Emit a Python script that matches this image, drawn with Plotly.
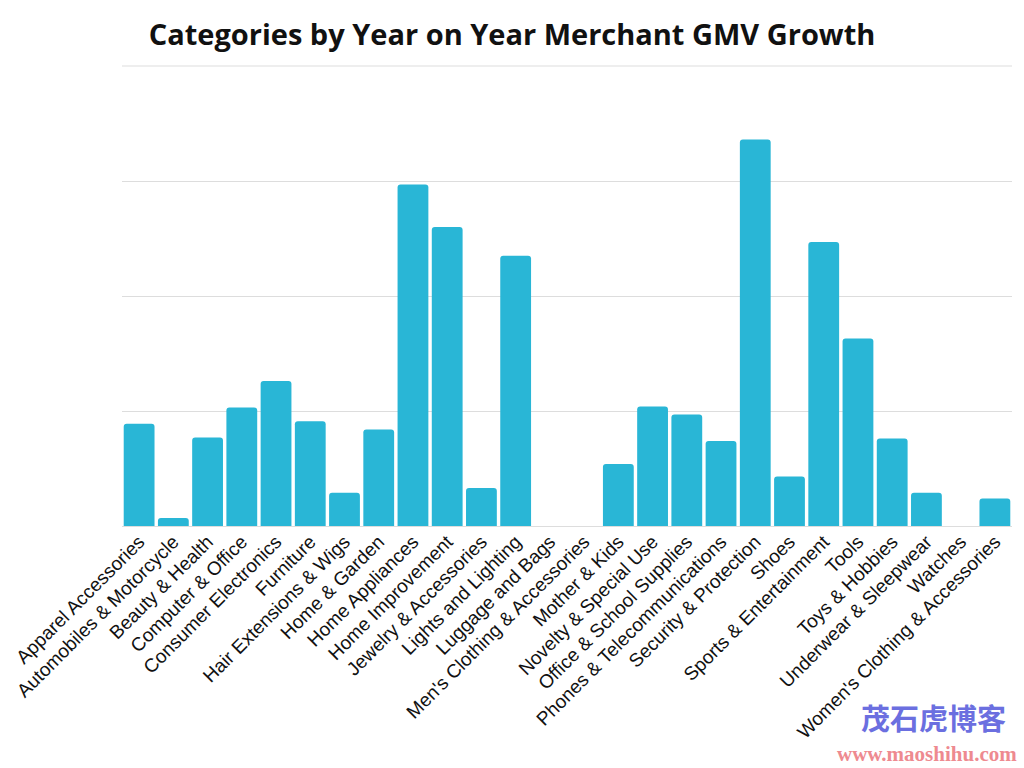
import plotly.graph_objects as go

categories = [
    "Apparel Accessories", "Automobiles & Motorcycle", "Beauty & Health",
    "Computer & Office", "Consumer Electronics", "Furniture",
    "Hair Extensions & Wigs", "Home & Garden", "Home Appliances",
    "Home Improvement", "Jewelry & Accessories", "Lights and Lighting",
    "Luggage and Bags", "Men's Clothing & Accessories", "Mother & Kids",
    "Novelty & Special Use", "Office & School Supplies",
    "Phones & Telecommunications", "Security & Protection", "Shoes",
    "Sports & Entertainment", "Tools", "Toys & Hobbies",
    "Underwear & Sleepwear", "Watches", "Women's Clothing & Accessories",
]
growth = [
    0.89, 0.07, 0.77, 1.03, 1.26, 0.91, 0.29, 0.84, 2.97, 2.60, 0.33, 2.35,
    0.0, 0.0, 0.54, 1.04, 0.97, 0.74, 3.36, 0.43, 2.47, 1.63, 0.76, 0.29,
    0.0, 0.24,
]

fig = go.Figure(go.Bar(
    x=categories, y=growth,
    marker=dict(color="#29B6D6", cornerradius=3, line=dict(width=0)),
    hoverinfo="x+y",
))

fig.update_layout(
    width=1024, height=768,
    margin=dict(l=120, r=12, t=66, b=242),
    paper_bgcolor="white", plot_bgcolor="white",
    bargap=0.1,
    showlegend=False,
    title=dict(
        text="Categories by Year on Year Merchant GMV Growth",
        x=0.5, xanchor="center", y=0.955, yanchor="middle",
        font=dict(family="Open Sans", size=29, weight=700, color="#111111"),
    ),
    xaxis=dict(
        tickangle=-45, showgrid=False, showline=False, ticks="",
        tickfont=dict(family="Liberation Sans, Arial", size=19, color="#111111"),
    ),
    yaxis=dict(
        range=[0, 4], tickvals=[0, 1, 2, 3, 4], showticklabels=False,
        showgrid=True, gridcolor="#dddddd", gridwidth=1, zeroline=True,
        zerolinecolor="#dddddd", zerolinewidth=1, showline=False,
    ),
    shapes=[
        dict(type="line", xref="paper", yref="paper", x0=0, x1=1, y0=1, y1=1,
             line=dict(color="#dddddd", width=1), layer="below"),
    ],
    annotations=[
        dict(text="<b>茂石虎博客</b>", xref="paper", yref="paper",
             x=0.995, y=-0.415, xanchor="right", yanchor="middle",
             showarrow=False,
             font=dict(family="Noto Sans CJK SC", size=29, color="#6B6FE0")),
        dict(text="<b>www.maoshihu.com</b>", xref="paper", yref="paper",
             x=1.008, y=-0.495, xanchor="right", yanchor="middle",
             showarrow=False,
             font=dict(family="Liberation Serif", size=21, color="#EE8A90")),
    ],
)

fig.write_html("out.html")
